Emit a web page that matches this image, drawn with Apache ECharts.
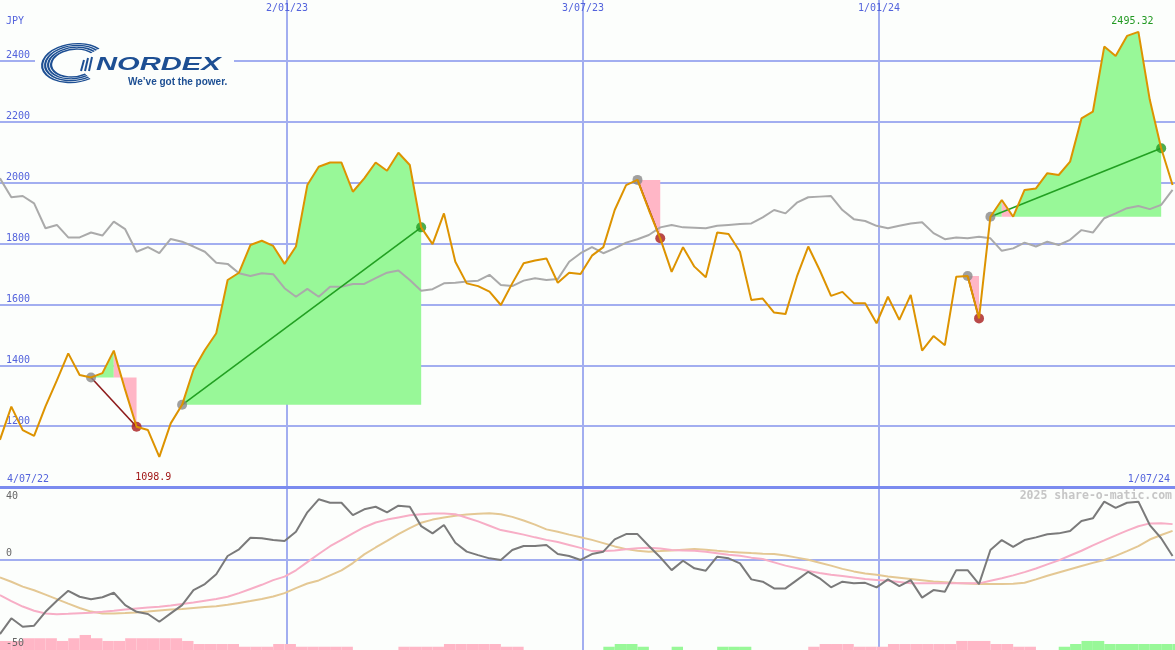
<!DOCTYPE html>
<html><head><meta charset="utf-8">
<script src="https://cdn.jsdelivr.net/npm/echarts@6/dist/echarts.min.js"></script>
<style>html,body{margin:0;padding:0;background:#fcfefc}#c{width:1175px;height:650px}</style>
</head><body><div id="c"></div>
<script>
// ---------- DATA (weekly points, week 0 = 4/07/22 ... week 103 = 1/07/24) ----------
const price = [1155,1264,1187,1168,1265,1350,1439,1368,1360,1374,
  1448,1319,1198,1187,1098.9,1209,1270,1385,1450,1505,
  1680,1704,1795,1809,1792,1733,1790,1992,2052,2066,
  2066,1970,2014,2066,2039,2098,2058,1853,1798,1899,
  1740,1669,1660,1642,1598,1669,1735,1744,1751,1671,
  1704,1700,1760,1788,1910,1992,2009,1910,1817,1707,
  1788,1724,1689,1836,1831,1773,1614,1619,1573,1568,
  1691,1790,1713,1628,1641,1604,1604,1538,1625,1549,
  1631,1448,1496,1466,1691,1693,1554,1888,1943,1888,
  1976,1981,2031,2025,2069,2211,2233,2447,2416,2482,
  2495.32,2272,2113,1992];
const relative = [2014,1952,1956,1932,1850,1861,1820,1820,1836,1826,
  1872,1847,1773,1788,1768,1815,1806,1790,1773,1737,
  1733,1702,1693,1702,1699,1653,1625,1651,1625,1658,
  1658,1667,1667,1686,1704,1711,1680,1645,1650,1669,
  1671,1675,1678,1697,1664,1660,1678,1686,1680,1683,
  1740,1768,1788,1768,1784,1803,1814,1828,1853,1861,
  1853,1852,1850,1858,1861,1864,1866,1886,1910,1899,
  1934,1952,1954,1956,1910,1880,1874,1858,1850,1858,
  1866,1870,1834,1814,1820,1817,1822,1817,1776,1784,
  1803,1790,1806,1795,1812,1844,1836,1883,1899,1916,
  1923,1913,1927,1976];
const oscillator = [-41.2,-32.5,-37.2,-36.6,-28.9,-22.8,-17.3,-20.6,-22.0,-20.9,
  -18.4,-25.2,-28.9,-30.1,-34.4,-29.8,-25.2,-16.9,-13.6,-8.2,
  1.9,5.6,12.0,11.7,10.7,10.2,15.3,26.0,33.2,31.3,
  31.3,24.5,27.7,29.1,26.0,29.7,29.1,18.4,14.4,19.0,
  9.2,4.3,2.4,0.6,-0.3,5.2,7.4,7.4,8.0,3.0,
  1.9,-0.3,3.0,4.3,11.1,14.0,14.0,7.4,1.2,-5.9,
  -0.7,-4.9,-6.2,1.5,0.6,-2.2,-11.0,-12.3,-16.0,-16.0,
  -11.4,-6.8,-10.4,-15.4,-12.3,-13.2,-12.9,-15.4,-11.0,-14.7,
  -11.4,-21.1,-16.9,-17.8,-5.9,-5.9,-13.6,5.2,10.7,7.0,
  10.7,12.2,13.9,14.4,15.7,21.2,22.7,31.9,28.5,31.3,
  31.9,19.0,11.7,1.9];
const oscAvgFast = [-19.7,-23,-26,-28.3,-29.8,-30.2,-30.0,-29.7,-29.4,-28.9,
  -28.3,-27.6,-27.1,-26.6,-26.1,-25.4,-24.6,-23.8,-22.8,-21.8,
  -20.6,-18.6,-16.3,-14,-11.4,-9.5,-6.0,-1.5,3.0,7.3,
  10.8,14.4,17.8,20.4,22.0,23.2,24.4,25.0,25.4,25.4,
  25.0,23.0,21.0,18.6,16.2,15.0,13.7,12.2,10.8,9.6,
  8.0,6.4,4.6,4.6,5.0,5.6,6.2,6.5,6.0,5.2,
  5.0,4.8,4.2,3.4,2.6,2.0,1.0,0.2,-1.6,-3.4,
  -4.9,-6.4,-7.5,-8.4,-9.2,-10.0,-10.8,-11.3,-11.8,-12.4,
  -13.1,-13.2,-13.2,-13.2,-13.2,-13.2,-13.2,-11.8,-10.4,-8.8,
  -7.0,-5.0,-2.7,-0.5,2.2,4.8,7.8,10.5,13.3,15.9,
  18.3,19.9,20.0,19.5];
const oscAvgSlow = [-9.9,-12.3,-15.0,-17.0,-19.4,-21.9,-24.4,-26.8,-28.8,-29.8,
  -29.8,-29.6,-29.3,-28.8,-28.2,-27.7,-27.3,-26.8,-26.3,-25.8,
  -25.0,-24.0,-23.0,-21.8,-20.5,-18.6,-15.8,-13.3,-11.6,-8.8,
  -6.0,-2.0,2.8,6.6,10.2,14.0,17.3,20.3,22.0,23.2,
  24.1,24.8,25.2,25.5,24.9,23.5,21.5,19.2,16.6,15.3,
  13.7,12.3,10.8,9.0,7.2,5.7,4.8,4.3,4.6,5.0,
  5.4,5.7,5.4,4.8,4.3,3.9,3.5,3.2,3.0,2.2,
  1.0,-0.2,-1.8,-3.4,-5.2,-6.6,-7.7,-8.5,-9.4,-10.1,
  -10.8,-11.5,-12.2,-12.6,-13.0,-13.3,-13.6,-13.6,-13.6,-13.4,
  -12.9,-11.0,-9.0,-7.2,-5.4,-3.6,-1.9,-0.3,2.0,4.6,
  7.4,11.0,13.5,15.8];
const downBars = [5.0,5.0,6.5,6.5,6.5,5.0,6.5,8.3,6.5,5.0,
  5.0,6.5,6.5,6.5,6.5,6.5,5.0,3.3,3.3,3.3,
  3.3,1.8,1.8,1.8,3.3,3.3,1.8,1.8,1.8,1.8,
  1.8,0,0,0,0,1.8,1.8,1.8,1.8,3.3,
  3.3,3.3,3.3,3.3,1.8,1.8,0,0,0,0,
  0,0,0,0,0,0,0,0,0,0,
  0,0,0,0,0,0,0,0,0,0,
  0,1.8,3.3,3.3,3.3,1.8,1.8,1.8,3.3,3.3,
  3.3,3.3,3.3,3.3,5.0,5.0,5.0,3.3,3.3,1.8,
  1.8,0,0,0,0,0,0,0,0,0,
  0,0,0,0];
const upBars = [0,0,0,0,0,0,0,0,0,0,
  0,0,0,0,0,0,0,0,0,0,
  0,0,0,0,0,0,0,0,0,0,
  0,0,0,0,0,0,0,0,0,0,
  0,0,0,0,0,0,0,0,0,0,
  0,0,0,1.8,3.3,3.3,1.8,0,0,1.8,
  0,0,0,1.8,1.8,1.8,0,0,0,0,
  0,0,0,0,0,0,0,0,0,0,
  0,0,0,0,0,0,0,0,0,0,
  0,0,0,1.8,3.3,5.0,5.0,3.3,3.3,3.3,
  3.3,3.3,3.3,3.3];
// trends: [startWeek, endWeek, direction]
const trends = [[8,12,-1],[16,37,1],[56,58,-1],[85,86,-1],[87,102,1]];
// fill pieces: [fromWeek, toWeek, trendIndex, up(1)/down(0)]
const fillPieces = [[8,10,0,1],[10,12,0,0],[16,37,1,1],[56,58,2,0],[85,86,3,0],[87,88,4,1],[88,89,4,0],[89,102,4,1]];
// date markers (days relative to 2/01/23)
const markerDays = [0,182,364];
const markerLabels = ['2/01/23','3/07/23','1/01/24'];
const rangeLabels = ['4/07/22','1/07/24'];
const priceTickLabels = [1200,1400,1600,1800,2000,2200,2400];
const oscZeroLabel = 0;
const oscTopLabel = 40;
const oscBottomLabel = -50;

// ---------- LAYOUT ----------
const FIRST_DAY = -176.5, DAY_MIN = -182, DAY_MAX = 546, DAY_STEP = 182;
const wk = d => (d - FIRST_DAY) / 7;
const WK_MIN = wk(DAY_MIN), WK_MAX = wk(DAY_MAX);
const OSC_MIN = -50, OSC_MAX = 40;
const GREEN = '#98f898', PINK = '#ffb6c6';
const GRIDC = '#a2aef0', BLUE = '#5363dc';
const MONO = '"DejaVu Sans Mono", monospace';
const LOGO = '#1d4f93';

const chart = echarts.init(document.getElementById('c'));
const series = [];
series.push({
  type: 'custom', xAxisIndex: 0, yAxisIndex: 0, z: 1, silent: true,
  encode: {x: [0, 1], y: 2},
  data: fillPieces.map(f => [f[0], f[1], price[trends[f[2]][0]], f[3]]),
  renderItem: (params, api) => {
    const a = api.value(0), b = api.value(1), base = api.value(2), up = api.value(3);
    const pts = [];
    for (let k = a; k <= b; k++) pts.push(api.coord([k, price[k]]));
    pts.push(api.coord([b, base]));
    pts.push(api.coord([a, base]));
    return {type: 'polygon', shape: {points: pts}, style: {fill: up ? GREEN : PINK}};
  }
});
series.push({type: 'line', xAxisIndex: 0, yAxisIndex: 0, z: 2, silent: true, symbol: 'none',
  data: relative.map((v, k) => [k, v]), lineStyle: {color: '#aaaaaa', width: 2}});
trends.forEach(t => series.push({type: 'line', xAxisIndex: 0, yAxisIndex: 0, z: 3, silent: true, symbol: 'none',
  data: [[t[0], price[t[0]]], [t[1], price[t[1]]]],
  lineStyle: {color: t[2] > 0 ? '#22a022' : '#8e1c1c', width: 1.6}}));
series.push({type: 'scatter', xAxisIndex: 0, yAxisIndex: 0, z: 4, silent: true, symbolSize: 10,
  data: trends.flatMap(t => [
    {value: [t[0], price[t[0]]], itemStyle: {color: '#888888'}},
    {value: [t[1], price[t[1]]], itemStyle: {color: t[2] > 0 ? '#229922' : '#a81c1c'}}])});
series.push({type: 'line', xAxisIndex: 0, yAxisIndex: 0, z: 5, silent: true, symbol: 'none',
  data: price.map((v, k) => [k, v]), lineStyle: {color: '#dd9300', width: 2},
  markPoint: {symbol: 'circle', symbolSize: 0, silent: true,
    label: {show: true, fontFamily: MONO, fontSize: 10},
    data: [
      {type: 'min', label: {position: 'bottom', distance: 16, offset: [-6, 0], color: '#a01818'}},
      {type: 'max', label: {position: 'top', distance: 5, offset: [-6, 0], color: '#229922'}}
    ]}});
// bottom panel
series.push({
  type: 'custom', xAxisIndex: 2, yAxisIndex: 1, z: 1, silent: true, encode: {x: 0, y: 1},
  data: downBars.map((h, k) => [k, h, 0]).filter(d => d[1] > 0)
    .concat(upBars.map((h, k) => [k, h, 1]).filter(d => d[1] > 0)),
  renderItem: (params, api) => {
    const k = api.value(0), h = api.value(1);
    const p0 = api.coord([k, OSC_MIN + h]), p1 = api.coord([k + 1, OSC_MIN]);
    return {type: 'rect', shape: {x: p0[0], y: p0[1], width: p1[0] - p0[0], height: p1[1] - p0[1]},
      style: {fill: api.value(2) ? GREEN : PINK}};
  }
});
series.push({type: 'line', xAxisIndex: 2, yAxisIndex: 1, z: 2, silent: true, symbol: 'none',
  data: oscAvgSlow.map((v, k) => [k, v]), lineStyle: {color: '#e4c894', width: 2}});
series.push({type: 'line', xAxisIndex: 2, yAxisIndex: 1, z: 3, silent: true, symbol: 'none',
  data: oscAvgFast.map((v, k) => [k, v]), lineStyle: {color: '#f7aec6', width: 2}});
series.push({type: 'line', xAxisIndex: 2, yAxisIndex: 1, z: 4, silent: true, symbol: 'none',
  data: oscillator.map((v, k) => [k, v]), lineStyle: {color: '#7a7a7a', width: 2}});

const dayLabel = v => { const i = markerDays.indexOf(v); return i >= 0 ? markerLabels[i] : ''; };
const oscAxis = (extra) => Object.assign({gridIndex: 1, type: 'value', min: OSC_MIN, max: OSC_MAX, interval: 50, position: 'left',
  axisLine: {show: false}, axisTick: {show: false}, splitLine: {show: false}}, extra);
const oscLabel = (va, val, pad) => ({inside: true, margin: 15, verticalAlign: va, color: '#666666', fontSize: 10, fontFamily: MONO,
  showMinLabel: true, showMaxLabel: true, padding: pad, formatter: v => v === val ? String(v) : ''});

const option = {
  animation: false,
  backgroundColor: '#fcfefc',
  textStyle: {fontFamily: MONO},
  grid: [
    {left: -9, top: 0, width: 1184, height: 487, containLabel: false, outerBoundsMode: 'none'},
    {left: -9, top: 487, width: 1184, height: 163, containLabel: false, outerBoundsMode: 'none'}
  ],
  xAxis: [
    {gridIndex: 0, type: 'value', min: WK_MIN, max: WK_MAX, position: 'bottom',
      axisLine: {show: true, onZero: false, lineStyle: {color: '#7b8bef', width: 3}},
      axisTick: {show: false}, axisLabel: {show: false}, splitLine: {show: false}},
    {gridIndex: 0, type: 'value', min: DAY_MIN, max: DAY_MAX, interval: DAY_STEP, position: 'top',
      axisLine: {show: false}, axisTick: {show: false},
      splitLine: {show: true, showMinLine: false, showMaxLine: false, lineStyle: {color: GRIDC, width: 2}},
      axisLabel: {inside: true, margin: 3, verticalAlign: 'top', color: BLUE, fontSize: 10, fontFamily: MONO,
        formatter: dayLabel}},
    {gridIndex: 1, type: 'value', min: WK_MIN, max: WK_MAX, show: false},
    {gridIndex: 1, type: 'value', min: DAY_MIN, max: DAY_MAX, interval: DAY_STEP,
      axisLine: {show: false}, axisTick: {show: false}, axisLabel: {show: false},
      splitLine: {show: true, showMinLine: false, showMaxLine: false, lineStyle: {color: GRIDC, width: 2}}}
  ],
  yAxis: [
    {gridIndex: 0, type: 'value', min: 1000, max: 2600, interval: 200, position: 'left',
      axisLine: {show: false}, axisTick: {show: false},
      splitLine: {show: true, showMinLine: false, showMaxLine: false, lineStyle: {color: GRIDC, width: 2}},
      axisLabel: {inside: true, margin: 15, verticalAlign: 'bottom', color: BLUE, fontSize: 10, fontFamily: MONO,
        formatter: v => priceTickLabels.indexOf(v) >= 0 ? String(v) : ''}},
    oscAxis({splitLine: {show: true, showMinLine: false, showMaxLine: false, lineStyle: {color: GRIDC, width: 2}},
      axisLabel: oscLabel('bottom', oscZeroLabel, [0, 0, 1, 0])}),
    oscAxis({z: 10, axisLabel: oscLabel('top', oscTopLabel, [4, 0, 0, 0])}),
    oscAxis({z: 10, axisLabel: oscLabel('bottom', oscBottomLabel, [0, 0, 2, 0])})
  ],
  graphic: [
    {type: 'text', x: 6, y: 21, z: 10, style: {text: 'JPY', fill: BLUE, font: '10px ' + MONO, verticalAlign: 'middle'}},
    {type: 'text', x: 7, y: 479, z: 10, style: {text: rangeLabels[0], fill: BLUE, font: '10px ' + MONO, verticalAlign: 'middle'}},
    {type: 'text', x: 1170, y: 479, z: 10, style: {text: rangeLabels[1], fill: BLUE, font: '10px ' + MONO, align: 'right', verticalAlign: 'middle'}},
    {type: 'text', x: 1172, y: 496, z: 10, style: {text: '2025 share-o-matic.com', fill: '#c6c6c6', font: 'bold 11.5px ' + MONO, align: 'right', verticalAlign: 'middle'}},
    // logo
    {type: 'rect', z: 10, shape: {x: 35, y: 38, width: 199, height: 52}, style: {fill: '#fcfefc'}},
    {type: 'group', x: 74, y: 63, scaleY: 0.6, rotation: 0.12, children: [32, 29, 26, 23].map(r => ({
      type: 'arc', z: 11, shape: {cx: 0, cy: 0, r: r, startAngle: 64 * Math.PI / 180, endAngle: 325 * Math.PI / 180, clockwise: true},
      style: {stroke: LOGO, lineWidth: 2.2, fill: 'none'}}))},
    {type: 'polyline', z: 11, shape: {points: [[81, 71], [84, 60]]}, style: {stroke: LOGO, lineWidth: 2}},
    {type: 'polyline', z: 11, shape: {points: [[85, 71], [88, 58]]}, style: {stroke: LOGO, lineWidth: 2}},
    {type: 'polyline', z: 11, shape: {points: [[89, 71], [92, 57]]}, style: {stroke: LOGO, lineWidth: 2}},
    {type: 'text', x: 96, y: 65, scaleX: 1.62, z: 11, style: {text: 'NORDEX', fill: LOGO, font: 'italic bold 18px "Liberation Sans", Arial, sans-serif', verticalAlign: 'middle'}},
    {type: 'text', x: 128, y: 82, z: 11, style: {text: 'We\u2019ve got the power.', fill: LOGO, font: 'bold 10px "Liberation Sans", Arial, sans-serif', verticalAlign: 'middle'}}
  ],
  series: series
};
chart.setOption(option);
</script></body></html>
